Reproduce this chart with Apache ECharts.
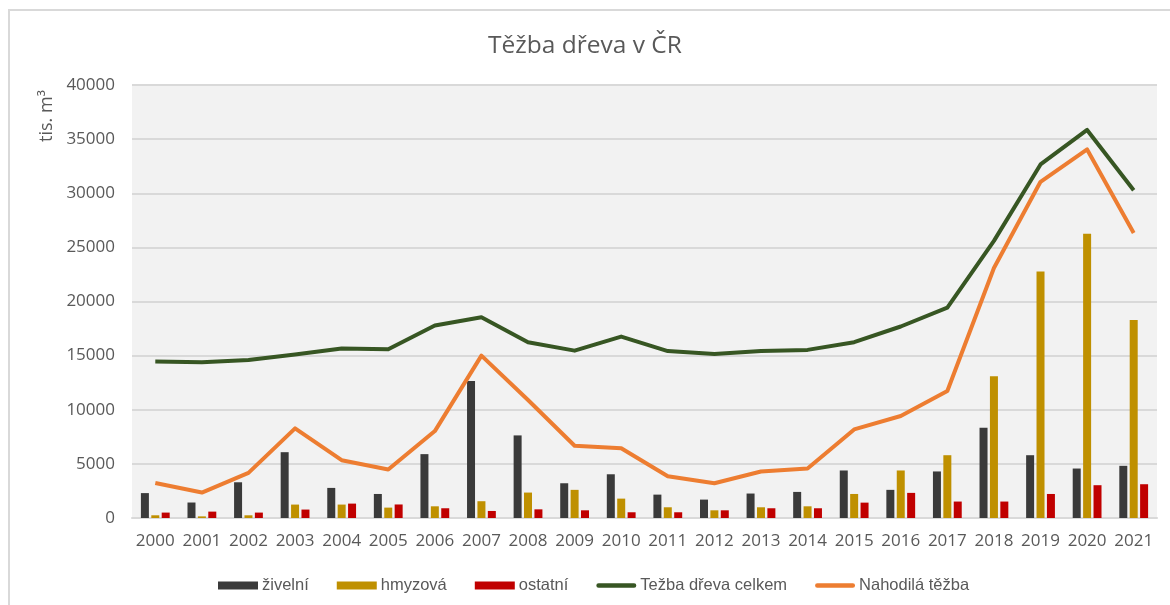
<!DOCTYPE html>
<html>
<head>
<meta charset="utf-8">
<script src="https://cdn.jsdelivr.net/npm/echarts@6/dist/echarts.min.js"></script>
<style>
  html, body { margin: 0; padding: 0; background: #fff; }
  #frame {
    position: absolute; left: 8px; top: 9px; width: 1162px; height: 596px;
    border-left: 2px solid #d9d9d9; border-top: 2px solid #d9d9d9; box-sizing: border-box;
  }
  #chart { position: absolute; left: 0; top: 0; width: 1170px; height: 605px; }
</style>
</head>
<body>
<div id="frame"></div>
<div id="chart"></div>
<script>
const years = ['2000', '2001', '2002', '2003', '2004', '2005', '2006', '2007', '2008', '2009', '2010',
  '2011', '2012', '2013', '2014', '2015', '2016', '2017', '2018', '2019', '2020', '2021'];
const zivelni = [2300, 1430, 3300, 6080, 2780, 2220, 5900, 12660, 7630, 3210, 4040,
  2160, 1700, 2260, 2410, 4390, 2600, 4300, 8330, 5800, 4570, 4820];
const hmyzova = [250, 150, 250, 1240, 1240, 960, 1080, 1550, 2350, 2600, 1790,
  990, 710, 990, 1080, 2220, 4390, 5800, 13090, 22780, 26270, 18300];
const ostatni = [500, 590, 500, 780, 1330, 1250, 900, 650, 800, 710, 530,
  530, 710, 900, 900, 1420, 2320, 1520, 1520, 2220, 3030, 3120];
const tezbaCelkem = [14450, 14390, 14600, 15100, 15650, 15590, 17780, 18550, 16240, 15460, 16760,
  15420, 15160, 15420, 15530, 16240, 17690, 19440, 25600, 32660, 35850, 30280];
const nahodila = [3240, 2350, 4170, 8280, 5340, 4480, 8030, 15000, 10900, 6670, 6450,
  3860, 3210, 4290, 4570, 8180, 9420, 11730, 23090, 31060, 34050, 26330];
const yTicks = { min: 0, max: 40000, interval: 5000 };

const txt = '#595959';
// thin rounded bar used as legend icon for the two lines
const lineIcon = 'path://M2.5,0 L41.5,0 A2.5,2.5 0 0 1 41.5,5 L2.5,5 A2.5,2.5 0 0 1 2.5,0 Z';
const chart = echarts.init(document.getElementById('chart'));

function bar(name, data, color) {
  return { name, type: 'bar', data, barWidth: 8, barGap: '30%', itemStyle: { color } };
}
function line(name, data, color) {
  return { name, type: 'line', data, symbol: 'none', z: 5,
    lineStyle: { color, width: 4, join: 'round' }, itemStyle: { color } };
}

chart.setOption({
  animation: false,
  textStyle: { fontFamily: 'Open Sans' },
  title: {
    text: 'Těžba dřeva v ČR', left: 'center', top: 29,
    textStyle: { fontFamily: 'Open Sans', fontSize: 24.5, fontWeight: 'normal', color: txt }
  },
  grid: { left: 132, right: 13, top: 85, bottom: 87, show: true, backgroundColor: '#f2f2f2', borderWidth: 0 },
  legend: {
    top: 572, left: 213, itemWidth: 40, itemHeight: 8, itemGap: 28, symbolKeepAspect: true,
    textStyle: { fontFamily: 'Liberation Sans', fontSize: 16.5, color: txt, padding: [0, 0, 0, -1] },
    data: [
      { name: 'živelní', icon: 'rect' },
      { name: 'hmyzová', icon: 'rect' },
      { name: 'ostatní', icon: 'rect' },
      { name: 'Težba dřeva celkem', icon: lineIcon },
      { name: 'Nahodilá těžba', icon: lineIcon }
    ]
  },
  xAxis: {
    type: 'category', data: years,
    axisLine: { lineStyle: { color: '#d9d9d9', width: 2 } },
    axisTick: { show: false },
    axisLabel: { color: txt, fontSize: 17, margin: 15, interval: 0 }
  },
  yAxis: {
    type: 'value', min: yTicks.min, max: yTicks.max, interval: yTicks.interval,
    axisLine: { show: false }, axisTick: { show: false },
    splitLine: { lineStyle: { color: '#d9d9d9', width: 2 } },
    axisLabel: { color: txt, fontSize: 17, margin: 17, formatter: v => String(v) }
  },
  graphic: [{
    type: 'text', x: 47, y: 116, rotation: Math.PI / 2,
    style: { text: 'tis. m³', fill: txt, font: '18px Open Sans', align: 'center', verticalAlign: 'middle' }
  }],
  series: [
    bar('živelní', zivelni, '#3a3a3a'),
    bar('hmyzová', hmyzova, '#bf9000'),
    bar('ostatní', ostatni, '#c00000'),
    line('Težba dřeva celkem', tezbaCelkem, '#375623'),
    line('Nahodilá těžba', nahodila, '#ed7d31')
  ]
});
</script>
</body>
</html>
